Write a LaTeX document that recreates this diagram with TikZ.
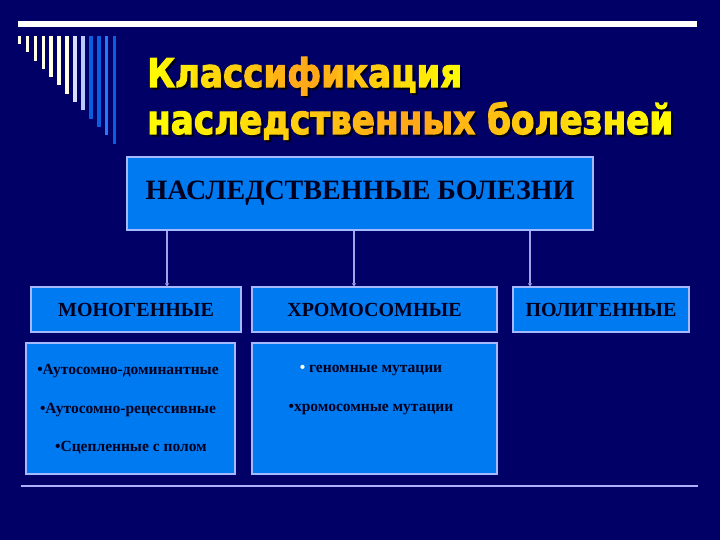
\documentclass[tikz,border=0pt]{standalone}
\usepackage{fontspec}
\setmainfont{Liberation Serif}
\newfontfamily\titlefont[FakeBold=3]{DejaVu Sans Bold}
\usetikzlibrary{arrows.meta}
\definecolor{slidebg}{RGB}{0,0,102}
\definecolor{boxfill}{RGB}{0,122,240}
\definecolor{boxline}{RGB}{165,185,255}
\definecolor{boxtext}{RGB}{0,0,30}
\definecolor{arrline}{RGB}{160,165,235}
\definecolor{rulecol}{RGB}{175,175,255}
\definecolor{titleyellow}{RGB}{255,255,0}
\definecolor{titleorange}{RGB}{255,165,25}
\definecolor{stripeA}{RGB}{255,255,228}
\definecolor{stripeB}{RGB}{215,222,255}
\definecolor{stripeC}{RGB}{185,200,255}
\definecolor{stripeD}{RGB}{10,95,225}
\definecolor{stripeE}{RGB}{40,120,250}
\newcommand{\titleA}{\resizebox{315pt}{30pt}{Классификация}}
\newcommand{\titleB}{\resizebox{526pt}{32pt}{наследственных болезней}}
\begin{document}
\begin{tikzpicture}[x=1pt,y=-1pt]
   \tikzset{box/.style={draw=boxline,line width=1.4pt,fill=boxfill,inner sep=0pt,
                        text=boxtext,font=\bfseries},
            headbox/.style={box,font=\bfseries\fontsize{20}{24}\selectfont},
            listtext/.style={inner sep=0pt,text=boxtext,font=\bfseries\fontsize{15.5}{18}\selectfont},
            titletext/.style={inner sep=0pt,anchor=base west,font=\titlefont},
            arr/.style={arrline,line width=1.3pt,-{Triangle[width=4pt,length=3pt,fill=white]}}}
   \fill[slidebg] (0,0) rectangle (720,540);
   \fill[white] (18,21) rectangle (697,27);
   \foreach \i/\c in {0/stripeA,1/stripeA,2/stripeA,3/stripeA,4/stripeA,5/stripeA,6/stripeA,
                      7/stripeB,8/stripeC,9/stripeD,10/stripeD,11/stripeE,12/stripeD}
      \draw[\c,line width=3.5pt] ({19.5+7.93*\i},36) -- ({19.5+7.93*\i},{44+8.3*\i});
   \node[titletext,text=black,opacity=0.8] (shadowA) at (149,89) {\titleA};
   \node[titletext,text=black,opacity=0.8] (shadowB) at (149,136) {\titleB};
   \foreach \i in {0,...,19} {
      \pgfmathtruncatemacro\mixval{abs(2*(\i+0.5)/20-1)*100}
      \begin{scope}
         \clip ({145+\i*16},50) rectangle ({145+(\i+1)*16+0.6},97);
         \node[titletext,text=titleyellow!\mixval!titleorange] (titleA\i) at (147,87) {\titleA};
      \end{scope}
   }
   \foreach \i in {0,...,23} {
      \pgfmathtruncatemacro\mixval{abs(2*(\i+0.5)/24-1)*100}
      \begin{scope}
         \clip ({145+\i*22.2},97) rectangle ({145+(\i+1)*22.2+0.6},145);
         \node[titletext,text=titleyellow!\mixval!titleorange] (titleB\i) at (147,134) {\titleB};
      \end{scope}
   }
   \node[box,minimum width=466pt,minimum height=73pt,font=\bfseries\fontsize{28}{32}\selectfont]
      (main) at (360,193.5) {НАСЛЕДСТВЕННЫЕ БОЛЕЗНИ};
   \node[headbox,minimum width=210pt,minimum height=45pt] (mono) at (136,309.5) {МОНОГЕННЫЕ};
   \node[headbox,minimum width=245pt,minimum height=45pt] (chromo) at (374.5,309.5) {ХРОМОСОМНЫЕ};
   \node[headbox,minimum width=176pt,minimum height=45pt] (poly) at (601,309.5) {ПОЛИГЕННЫЕ};
   \node[box,minimum width=209pt,minimum height=131pt] (monolist) at (130.5,408.5) {};
   \node[box,minimum width=245pt,minimum height=131pt] (chromolist) at (374.5,408.5) {};
   \coordinate (toMono) at (167,0);
   \coordinate (toChromo) at (354,0);
   \coordinate (toPoly) at (530,0);
   \draw[arr] (main.south -| toMono) -- (mono.north -| toMono);
   \draw[arr] (main.south -| toChromo) -- (chromo.north -| toChromo);
   \draw[arr] (main.south -| toPoly) -- (poly.north -| toPoly);
   \node[listtext] (auto1) at (128,371) {•Аутосомно-доминантные};
   \node[listtext] (auto2) at (128,410) {•Аутосомно-рецессивные};
   \node[listtext] (sexlink) at (131,448) {•Сцепленные с полом};
   \node[listtext] (genome) at (371,371) {{\color{white}•} геномные мутации};
   \node[listtext] (chrommut) at (371,410) {•хромосомные мутации};
   \draw[rulecol,line width=2pt] (21,485.5) -- (698,485.5);
\end{tikzpicture}
\end{document}
